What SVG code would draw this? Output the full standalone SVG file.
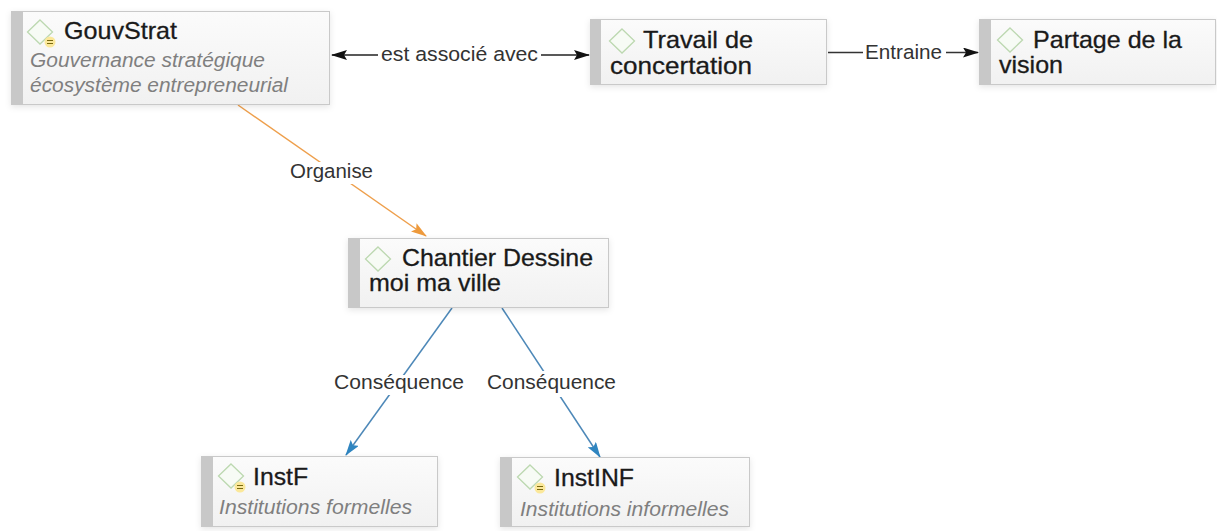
<svg xmlns="http://www.w3.org/2000/svg" width="1217" height="531" viewBox="0 0 1217 531">
<defs>
<linearGradient id="g" x1="0" y1="0" x2="0" y2="1"><stop offset="0" stop-color="#fbfbfb"/><stop offset="1" stop-color="#f1f1f1"/></linearGradient>
<filter id="s" x="-5%" y="-10%" width="110%" height="125%"><feDropShadow dx="0" dy="2" stdDeviation="3" flood-color="#000" flood-opacity=".1"/></filter>
<marker id="ak" viewBox="0 0 16 10" refX="15" refY="5" markerWidth="16" markerHeight="10" markerUnits="userSpaceOnUse" orient="auto-start-reverse"><path d="M0 0L16 5L0 10L3 5Z" fill="#111"/></marker>
<marker id="ao" viewBox="0 0 16 10" refX="15" refY="5" markerWidth="16" markerHeight="10" markerUnits="userSpaceOnUse" orient="auto"><path d="M0 0L16 5L0 10L3 5Z" fill="#ee9a3c"/></marker>
<marker id="ab" viewBox="0 0 16 10" refX="15" refY="5" markerWidth="16" markerHeight="10" markerUnits="userSpaceOnUse" orient="auto"><path d="M0 0L16 5L0 10L3 5Z" fill="#2f85c0"/></marker>
<g id="dia"><path d="M0 -12L12.500 0L0 12L-12.500 0Z" fill="#f7fbf5" stroke="#bcd8b0" stroke-width="1.300"/></g>
<g id="eq"><circle r="5.500" fill="#fbe89a"/><path d="M-3 -1.500H3M-3 1.500H3" stroke="#7a6a10" stroke-width="1.200"/></g>
</defs>
<style>
.box{fill:url(#g);stroke:#c9c9c9;stroke-width:1;filter:url(#s)}
.bar{fill:#c8c8c8}
.t{font:24px "Liberation Sans",Arial,sans-serif;fill:#1a1a1a;stroke:#1a1a1a;stroke-width:.3}
.d{font:italic 20.500px "Liberation Sans",Arial,sans-serif;fill:#7f7f7f}
.l{font:20.500px "Liberation Sans",Arial,sans-serif;fill:#333}
.c{fill:none;stroke-width:1.500}
.lb{fill:#fff}
</style>
<g id="connectors">
<path class="c" stroke="#222" marker-start="url(#ak)" marker-end="url(#ak)" d="M332 55H589"/>
<path class="c" stroke="#333" marker-end="url(#ak)" d="M828 52.500H978"/>
<path class="c" stroke="#ee9f4c" marker-end="url(#ao)" d="M238 105L426 236"/>
<path class="c" stroke="#4d88b8" marker-end="url(#ab)" d="M452 308L346 455"/>
<path class="c" stroke="#4d88b8" marker-end="url(#ab)" d="M502 308L600 457"/>
<rect class="lb" x="378" y="44" width="163" height="24"/><text class="l" x="381" y="61" textLength="157" lengthAdjust="spacingAndGlyphs">est associé avec</text>
<rect class="lb" x="863" y="42" width="83" height="22"/><text class="l" x="865" y="59" textLength="77" lengthAdjust="spacingAndGlyphs">Entraine</text>
<rect class="lb" x="288" y="162" width="87" height="22"/><text class="l" x="290" y="178" textLength="83" lengthAdjust="spacingAndGlyphs">Organise</text>
<rect class="lb" x="332" y="375" width="134" height="20"/><text class="l" x="334" y="389" textLength="130" lengthAdjust="spacingAndGlyphs">Conséquence</text>
<rect class="lb" x="485" y="371" width="133" height="26"/><text class="l" x="487" y="389" textLength="129" lengthAdjust="spacingAndGlyphs">Conséquence</text>
</g>
<g id="GouvStrat"><rect class="box" x="11.500" y="11.500" width="318" height="93"/><rect class="bar" x="11" y="11" width="12" height="94"/><use href="#dia" x="40" y="32"/><use href="#eq" x="50" y="42"/><text class="t" x="64" y="39" textLength="113" lengthAdjust="spacingAndGlyphs">GouvStrat</text><text class="d" x="30" y="67" textLength="235" lengthAdjust="spacingAndGlyphs">Gouvernance stratégique</text><text class="d" x="30" y="92" textLength="258" lengthAdjust="spacingAndGlyphs">écosystème entrepreneurial</text></g>
<g id="Travail"><rect class="box" x="590.500" y="19.500" width="236" height="65"/><rect class="bar" x="590" y="19" width="11" height="66"/><use href="#dia" x="622" y="41"/><text class="t" x="643" y="48" textLength="110" lengthAdjust="spacingAndGlyphs">Travail de</text><text class="t" x="610" y="74" textLength="142" lengthAdjust="spacingAndGlyphs">concertation</text></g>
<g id="Partage"><rect class="box" x="979.500" y="19.500" width="236" height="65"/><rect class="bar" x="979" y="19" width="12" height="66"/><use href="#dia" x="1010" y="40"/><text class="t" x="1033" y="48" textLength="149" lengthAdjust="spacingAndGlyphs">Partage de la</text><text class="t" x="999" y="73" textLength="64" lengthAdjust="spacingAndGlyphs">vision</text></g>
<g id="Chantier"><rect class="box" x="348.500" y="238.500" width="260" height="69"/><rect class="bar" x="348" y="238" width="12" height="70"/><use href="#dia" x="378" y="259"/><text class="t" x="402" y="266" textLength="191" lengthAdjust="spacingAndGlyphs">Chantier Dessine</text><text class="t" x="369" y="291" textLength="132" lengthAdjust="spacingAndGlyphs">moi ma ville</text></g>
<g id="InstF"><rect class="box" x="201.500" y="456.500" width="236" height="70"/><rect class="bar" x="201" y="456" width="12" height="71"/><use href="#dia" x="231" y="476"/><use href="#eq" x="240" y="487"/><text class="t" x="253" y="485" textLength="55" lengthAdjust="spacingAndGlyphs">InstF</text><text class="d" x="219" y="514" textLength="193" lengthAdjust="spacingAndGlyphs">Institutions formelles</text></g>
<g id="InstINF"><rect class="box" x="500.500" y="457.500" width="249" height="69"/><rect class="bar" x="500" y="457" width="12" height="70"/><use href="#dia" x="530" y="477"/><use href="#eq" x="540" y="488"/><text class="t" x="554" y="486" textLength="80" lengthAdjust="spacingAndGlyphs">InstINF</text><text class="d" x="520" y="516" textLength="209" lengthAdjust="spacingAndGlyphs">Institutions informelles</text></g>
</svg>
